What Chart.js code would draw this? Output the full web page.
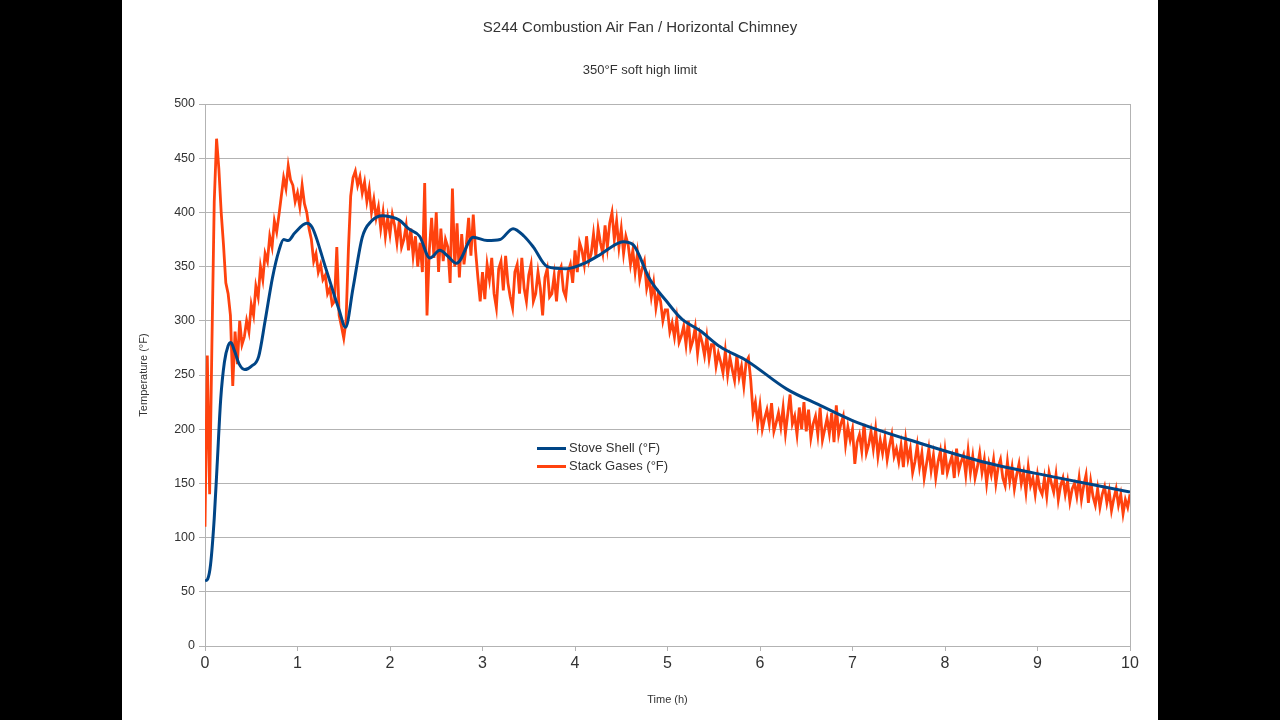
<!DOCTYPE html>
<html>
<head>
<meta charset="utf-8">
<title>S244 Combustion Air Fan / Horizontal Chimney</title>
<script src="https://cdn.jsdelivr.net/npm/chart.js@4.4.1/dist/chart.umd.min.js"></script>
<style>
  html, body { margin: 0; padding: 0; background: #000; }
  .page { position: absolute; left: 122px; top: 0; width: 1036px; height: 720px; background: #fff;
          font-family: "Liberation Sans", Arial, sans-serif; color: #333; }
  .title { position: absolute; left: 0; width: 100%; text-align: center; }
  .main-title { top: 18px; font-size: 15px; line-height: 18px; }
  .sub-title { top: 62px; font-size: 13px; line-height: 16px; }
  #chart { position: absolute; left: 0; top: 0; }
  .legend { position: absolute; left: 415px; top: 439px; font-size: 13px; line-height: 18px; }
  .legend div { white-space: nowrap; }
  .legend span.swatch { display: inline-block; width: 29px; height: 3px; vertical-align: middle; margin-right: 3px; }
</style>
</head>
<body>
<div class="page">
  <canvas id="chart" width="1036" height="720"></canvas>
  <div class="title main-title">S244 Combustion Air Fan / Horizontal Chimney</div>
  <div class="title sub-title">350°F soft high limit</div>
  <div class="legend" id="legend"></div>
</div>
<script>
"use strict";

// axis ticks
const xTicks = [0, 1, 2, 3, 4, 5, 6, 7, 8, 9, 10];
const yTicks = [0, 50, 100, 150, 200, 250, 300, 350, 400, 450, 500];

// Stove Shell (°F) - smooth curve, read at irregular times (h)
const shellTime = [0, 0.03, 0.06, 0.1, 0.13, 0.17, 0.21, 0.25, 0.28, 0.32, 0.37, 0.43, 0.5, 0.58, 0.65, 0.73,
  0.8, 0.85, 0.9, 0.97, 1.1, 1.16, 1.3, 1.45, 1.52, 1.6, 1.7, 1.8, 1.92, 2.0, 2.1, 2.2, 2.32, 2.43, 2.54,
  2.62, 2.72, 2.9, 3.05, 3.19, 3.33, 3.45, 3.55, 3.7, 3.91, 4.1, 4.27, 4.45, 4.52, 4.63, 4.81, 4.99, 5.15,
  5.35, 5.57, 5.86, 6.29, 6.65, 7.0, 7.73, 8.45, 9.17, 10.0];
const shellTemp = [60, 62, 75, 118, 165, 228, 262, 277, 280, 272, 260, 255, 258, 267, 300, 340,
  365, 375, 374, 381, 390, 386, 350, 310, 294, 330, 377, 392, 397, 396, 393, 385, 378, 358, 365,
  360, 353, 377, 374, 375, 385, 378, 368, 350, 348, 353, 361, 371, 373, 370, 338, 318, 302,
  291, 276, 263, 237, 222, 208, 187, 169, 156, 142];

// Stack Gases (°F) - noisy logger trace, one reading every 0.025 h (one row = 0.5 h)
const stackStep = 0.025;
const stackTemp = [
  110, 268, 140, 280, 410, 468, 440, 400, 370, 335, 325, 305, 240, 290, 260, 300, 278, 285, 300, 290,
  315, 305, 332, 322, 350, 338, 362, 355, 378, 368, 392, 382, 398, 415, 432, 422, 443, 430, 425, 410,
  418, 405, 425, 408, 400, 385, 375, 355, 362, 345, 352, 338, 342, 325, 330, 315, 318, 368, 305, 295,
  284, 300, 365, 415, 432, 438, 425, 433, 418, 428, 410, 422, 400, 412, 395, 405, 385, 400, 378, 395,
  380, 398, 388, 372, 392, 368, 375, 388, 365, 385, 360, 378, 350, 372, 345, 427, 305, 365, 395, 358,
  400, 345, 385, 355, 375, 368, 335, 422, 350, 390, 340, 380, 352, 370, 395, 360, 398, 365, 340, 318,
  345, 320, 352, 338, 358, 325, 312, 348, 355, 328, 360, 335, 322, 312, 345, 352, 325, 358, 330, 318,
  342, 352, 318, 325, 345, 330, 305, 340, 348, 322, 325, 342, 318, 345, 350, 328, 322, 345, 352, 335,
  365, 345, 372, 365, 352, 378, 355, 362, 380, 360, 385, 372, 362, 388, 368, 390, 400, 375, 392, 368,
  385, 362, 378, 370, 352, 365, 345, 362, 338, 348, 355, 330, 340, 322, 335, 312, 325, 318, 300, 310,
  310, 290, 298, 285, 302, 280, 286, 295, 278, 300, 275, 282, 294, 270, 288, 280, 268, 285, 265, 278,
  278, 258, 270, 262, 252, 272, 250, 266, 255, 245, 268, 248, 258, 240, 262, 266, 245, 215, 225, 205,
  222, 200, 210, 218, 205, 224, 198, 206, 215, 202, 220, 196, 214, 232, 205, 212, 195, 220, 200, 225,
  198, 218, 192, 205, 212, 195, 220, 190, 200, 210, 196, 215, 188, 222, 195, 205, 212, 186, 202, 190,
  200, 168, 188, 195, 180, 205, 178, 186, 198, 182, 200, 175, 190, 178, 192, 172, 185, 195, 175, 182,
  170, 185, 165, 190, 172, 182, 160, 170, 185, 165, 178, 155, 168, 182, 162, 176, 155, 170, 180, 158,
  180, 160, 168, 175, 155, 182, 162, 170, 176, 158, 180, 160, 175, 155, 165, 178, 160, 172, 150, 168,
  158, 172, 150, 165, 172, 155, 148, 170, 152, 165, 145, 158, 168, 150, 160, 142, 165, 148, 155, 140,
  158, 145, 140, 155, 138, 160, 150, 142, 158, 135, 148, 155, 140, 152, 133, 145, 150, 138, 155, 135,
  148, 158, 132, 152, 138, 130, 145, 128, 140, 147, 132, 143, 125, 136, 145, 130, 140, 122, 135, 128,
  140
];

const seriesNames = ["Stove Shell (°F)", "Stack Gases (°F)"];
const seriesColors = ["#004586", "#ff420e"];

const gridColor = "#b3b3b3";
const fontFamily = "'Liberation Sans', Arial, sans-serif";

const shellPoints = shellTime.map((t, i) => ({x: t, y: shellTemp[i]}));
const stackPoints = stackTemp.map((v, i) => ({x: i * stackStep, y: v}));

// right edge of the plot frame (LibreOffice draws a box round the wall)
const frameRight = {
  id: "frameRight",
  beforeDatasetsDraw(chart) {
    const {ctx, chartArea} = chart;
    ctx.save();
    ctx.strokeStyle = gridColor;
    ctx.lineWidth = 1;
    ctx.beginPath();
    ctx.moveTo(Math.round(chartArea.right) + 0.5, chartArea.top);
    ctx.lineTo(Math.round(chartArea.right) + 0.5, chartArea.bottom);
    ctx.stroke();
    ctx.restore();
  }
};

const chart = new Chart(document.getElementById("chart"), {
  type: "line",
  data: {
    datasets: [
      {
        label: seriesNames[0],
        data: shellPoints,
        borderColor: seriesColors[0],
        borderWidth: 3,
        pointRadius: 0,
        cubicInterpolationMode: "monotone",
        fill: false
      },
      {
        label: seriesNames[1],
        data: stackPoints,
        borderColor: seriesColors[1],
        borderWidth: 2.8,
        pointRadius: 0,
        tension: 0,
        fill: false
      }
    ]
  },
  options: {
    responsive: false,
    animation: false,
    events: [],
    layout: {padding: {top: 104, right: 28, bottom: 0, left: 0}},
    plugins: {
      legend: {display: false},
      tooltip: {enabled: false}
    },
    scales: {
      x: {
        type: "linear",
        min: xTicks[0],
        max: xTicks[xTicks.length - 1],
        afterBuildTicks: (scale) => { scale.ticks = xTicks.map((v) => ({value: v})); },
        afterFit: (scale) => { scale.height = 74; },
        grid: {drawOnChartArea: false, color: gridColor, tickLength: 5},
        border: {color: gridColor},
        ticks: {color: "#333", padding: 3, font: {family: fontFamily, size: 16}, maxRotation: 0},
        title: {display: true, text: "Time (h)", color: "#333",
                font: {family: fontFamily, size: 11}, padding: {top: 0, bottom: 13}}
      },
      y: {
        type: "linear",
        min: yTicks[0],
        max: yTicks[yTicks.length - 1],
        afterBuildTicks: (scale) => { scale.ticks = yTicks.map((v) => ({value: v})); },
        afterFit: (scale) => { scale.width = 83; },
        grid: {color: gridColor, tickLength: 6},
        border: {color: gridColor},
        ticks: {color: "#333", padding: 4, font: {family: fontFamily, size: 12.5}},
        title: {display: true, text: "Temperature (°F)", color: "#333",
                font: {family: fontFamily, size: 11}, padding: {top: 15, bottom: 0}}
      }
    }
  },
  plugins: [frameRight]
});

// legend sits inside the plot, as in the original sheet
const legend = document.getElementById("legend");
seriesNames.forEach((name, i) => {
  const row = document.createElement("div");
  const swatch = document.createElement("span");
  swatch.className = "swatch";
  swatch.style.background = seriesColors[i];
  row.appendChild(swatch);
  row.appendChild(document.createTextNode(name));
  legend.appendChild(row);
});
</script>
</body>
</html>
